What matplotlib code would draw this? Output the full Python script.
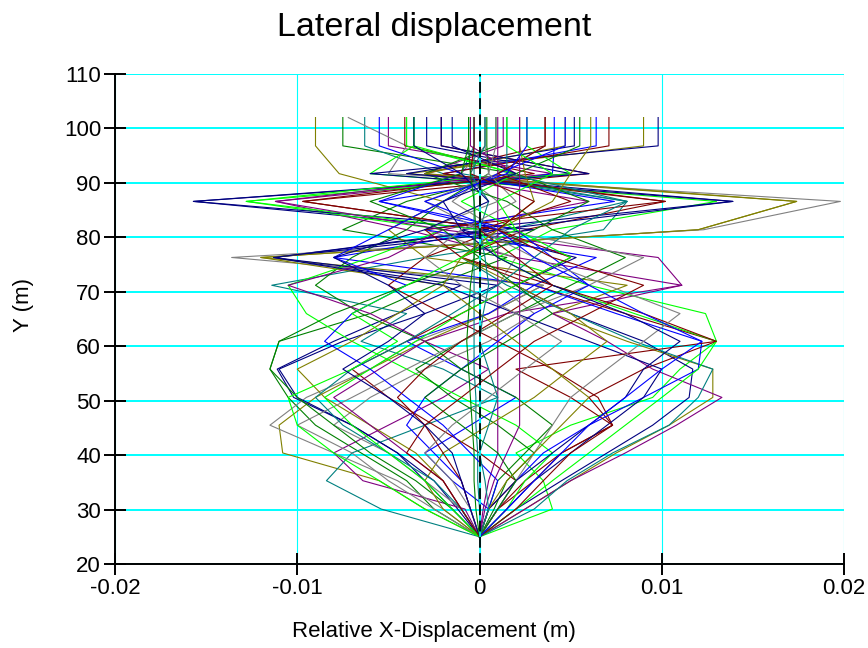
import numpy as np
import matplotlib
matplotlib.use("Agg")
import matplotlib.pyplot as plt

# heights of the output stations (m)
levels = [25.0, 30.1, 35.3, 40.4, 45.5, 50.6, 55.8, 60.9, 66.0, 71.2, 76.3, 81.4, 86.6, 91.7, 96.8, 102.0]

# relative x-displacement per case, in mm
disp_mm = [
    [0, -1.2, -2.5, -4.5, -7.0, -10.2, -11.1, -8.0, -4.5, -1.0, -11.3, 0.5, -15.7, 5.0, -2.9, -2.9],
    [0, 1.0, 2.5, 4.5, 7.3, 6.0, 9.0, 13.0, 8.0, 3.0, -1.0, 2.5, 10.2, -3.0, 3.6, 3.6],
    [0, -2.5, -4.0, -6.5, -9.0, -10.5, -11.5, -11.0, -6.0, -2.5, 1.5, -7.5, -4.0, 2.0, -7.5, -7.5],
    [0, -3.0, -5.5, -10.8, -11.0, -9.0, -6.0, -3.0, 0.5, 3.5, -12.0, 12.0, 17.4, -4.0, 9.0, 9.0],
    [0, -0.8, -6.4, -8.0, -5.0, -2.0, 0.5, -3.0, 1.5, 11.1, 2.0, -4.0, -11.2, 4.0, -5.0, -5.0],
    [0, -5.4, -8.4, -7.0, -3.0, 1.0, -2.0, -6.5, -4.0, -11.4, -3.0, 6.8, 8.1, -2.0, -6.3, -6.3],
    [0, -2.0, -4.5, -8.0, -11.5, -9.5, -6.0, -3.5, 0.5, 3.5, -13.6, 12.3, 19.8, -5.0, -4.0, -7.2],
    [0, 4.0, 3.5, 2.0, 5.0, 9.5, 11.0, 13.0, 12.4, 6.0, 1.0, 4.0, 13.0, -6.0, -3.6, -3.6],
    [0, 0.5, -1.5, -3.0, -0.5, 2.0, -1.0, -4.0, 0.5, 3.0, -8.0, 1.0, -5.5, 4.0, 4.1, 4.1],
    [0, 2.0, 4.5, 7.0, 9.5, 11.5, 11.7, 9.0, 5.0, 2.0, 5.3, -1.0, 13.9, -6.0, 9.8, 9.8],
    [0, 1.0, 3.0, 4.5, 7.3, 6.5, 4.0, 1.0, -2.0, -5.0, -3.0, 1.0, -9.7, 6.0, -2.1, -2.1],
    [0, 0.5, 1.0, 2.5, 4.0, 2.0, -1.0, -3.0, -6.5, -9.0, -7.0, -4.0, -2.0, 0.5, 0.4, 0.4],
    [0, 2.5, 5.0, 7.5, 10.4, 12.8, 12.8, 8.1, 4.0, 8.1, -3.0, -5.0, -2.0, -7.7, -9.0, -9.0],
    [0, 2.5, 5.0, 8.0, 10.8, 13.3, 9.5, 7.0, 4.0, 11.1, 9.8, -2.0, 6.0, -3.0, 1.3, 1.3],
    [0, 3.0, 4.8, 7.3, 10.4, 12.0, 12.8, 8.5, 5.0, 1.5, -1.0, 1.5, 8.1, -1.0, -0.3, -0.3],
    [0, -1.0, -3.0, -5.0, -8.0, -6.0, -3.0, 0.5, 3.0, 1.0, 2.0, -3.0, 1.0, -1.0, 0.3, 0.3],
    [0, 1.5, 2.5, 4.0, 2.0, -1.0, -4.0, -7.0, -9.5, -10.5, -6.0, -2.0, -12.8, 5.0, 2.6, 2.6],
    [0, 1.0, 2.0, 3.5, 6.0, 9.0, 12.0, 12.2, 7.5, 3.0, 6.4, -3.0, 7.4, -2.0, 6.4, 6.4],
    [0, -1.5, -3.0, -4.5, -7.0, -10.0, -11.0, -7.5, -3.0, 1.0, -11.3, 3.0, -15.7, 6.0, -2.1, -2.1],
    [0, 0.5, 2.0, 0.0, -2.5, -5.0, -7.0, -4.0, -1.0, 2.0, 5.0, 1.0, -9.7, 3.0, -4.1, -4.1],
    [0, 0.8, 1.5, 3.0, 1.0, -1.5, -3.5, -1.0, 2.0, 5.0, 8.0, 4.0, 1.5, -3.0, 0.9, 0.9],
    [0, -1.0, -2.0, -3.5, -6.0, -8.5, -10.0, -7.0, -4.5, -2.0, -12.0, 12.0, 17.4, -3.0, 4.7, 4.7],
    [0, 0.2, 0.5, 1.0, 1.0, 1.0, 1.0, 1.0, 1.0, 1.0, 1.0, 1.0, 1.0, 1.0, 1.0, 1.0],
    [0, 0.0, -0.1, -0.1, -0.2, -0.2, -0.3, -0.3, -0.3, -0.3, -0.3, -0.3, -0.3, -0.3, -0.3, -0.3],
    [0, -2.5, -5.0, -7.0, -10.0, -7.0, -4.0, -1.0, 2.0, 6.0, 9.0, 1.0, -1.5, 0.5, 0.3, 0.3],
    [0, 2.0, 4.0, 6.0, 8.0, 10.0, 12.0, 13.0, 8.5, 4.0, 1.0, 0.0, -12.8, 2.0, -3.6, -3.6],
    [0, -0.5, -1.0, -2.5, -4.0, -3.0, -1.0, 1.0, 3.0, 6.0, 4.0, 2.0, -5.5, -1.0, -5.5, -5.5],
    [0, 1.5, 3.0, 5.0, 7.0, 9.0, 10.0, 6.0, 2.0, -2.0, -11.3, 1.0, 13.9, -4.0, 5.2, 5.2],
    [0, 2.0, 3.5, 5.0, 7.3, 5.0, 2.0, 13.0, 9.0, 4.0, -1.0, -3.0, 10.2, -2.0, 7.1, 7.1],
    [0, -1.5, -3.5, -6.0, -8.0, -10.0, -11.5, -11.0, -8.0, -4.0, 0.0, 3.0, 6.0, 2.0, 5.5, 5.5],
    [0, -2.0, -3.0, -2.0, 0.5, 3.0, 5.0, 7.0, 5.0, 2.0, -1.0, 1.0, 3.0, 2.5, 2.2, 2.2],
    [0, -1.0, -2.0, -4.0, -6.0, -8.0, -5.5, -3.0, -6.0, -10.5, -5.0, -2.0, -11.2, 2.0, -0.5, -0.5],
    [0, -1.0, -2.5, -5.0, -7.5, -9.0, -7.0, -4.0, -1.5, 1.0, 3.0, 5.0, 8.1, 1.5, 1.5, 1.5],
    [0, 1.0, 2.0, 3.0, 4.0, 5.0, 7.0, 9.0, 11.0, 7.0, 3.0, 0.0, -3.0, 1.0, 3.6, 3.6],
    [0, -1.5, -3.0, -5.0, -7.0, -8.5, -6.0, -3.5, -1.0, 2.0, 5.0, 2.0, -1.0, 2.0, -4.0, -4.0],
    [0, 0.5, 1.0, -0.5, -2.0, -4.0, -6.0, -8.5, -7.0, -4.0, -8.0, -5.0, -2.0, 1.0, 4.7, 4.7],
    [0, 0.5, 2.0, 4.0, 6.0, 8.0, 9.0, 11.0, 8.0, 4.0, 1.0, -1.0, -2.0, 2.0, -1.5, -1.5],
    [0, -0.5, -1.0, -2.0, -3.0, -4.5, -3.0, -1.0, 1.5, 4.0, 2.0, 0.0, 5.0, 1.0, 3.6, 3.6],
    [0, 1.0, 2.0, 1.0, -1.0, -3.0, -1.0, 1.5, 4.0, 2.0, 0.0, -2.0, -6.0, -1.0, -0.6, -0.6],
    [0, 0.5, 1.5, 3.0, 4.5, 6.0, 4.0, 2.0, 0.0, -2.0, -1.0, 1.0, 4.0, 5.0, 6.1, 6.1],
    [0, 0.3, 0.8, 1.5, 2.2, 2.2, 2.2, 2.2, 2.2, 2.2, 2.2, 2.2, 2.2, 2.2, 2.2, 2.2],
    [0, 0.5, 0.3, 0.0, 0.5, 1.0, 0.5, 0.0, 0.2, 0.5, 0.3, 0.0, 0.5, -0.5, 0.3, 0.3],
    [0, -0.5, -1.5, -3.0, -1.5, 0.5, 2.5, 4.5, 2.0, -1.0, -3.0, -1.0, 2.0, 0.5, 0.9, 0.9],
    [0, -3.0, -5.5, -8.0, -10.0, -10.5, -7.0, -4.5, -7.0, -4.0, -1.0, 2.0, 1.0, 4.0, 1.5, 1.5],
    [0, 1.5, 3.0, 4.5, 6.0, 8.0, 10.0, 12.2, 9.0, 6.0, 3.0, 1.0, -3.0, 1.5, 2.6, 2.6],
    [0, -0.5, -1.0, -1.5, -3.0, -5.0, -7.5, -5.0, -3.0, -5.0, -8.0, -3.0, 0.5, -1.0, -3.6, -3.6],
    [0, -1.0, -2.0, -4.0, -3.0, -1.0, 1.0, 3.0, 6.0, 9.0, 4.0, 1.0, 3.0, -0.5, -0.3, -0.3],
    [0, -0.2, -0.3, -0.3, -0.4, -0.5, -0.6, -0.7, -0.6, -0.5, -0.3, -0.2, -0.3, -0.5, -0.6, -0.6],
]

line_colors = ["#000080", "#800000", "#008000", "#808000", "#800080",
               "#008080", "#808080", "#00ff00", "#0000ff"]

x_ticks = [-0.02, -0.01, 0, 0.01, 0.02]
x_tick_labels = ["-0.02", "-0.01", "0", "0.01", "0.02"]
y_ticks = [20, 30, 40, 50, 60, 70, 80, 90, 100, 110]


def plot_displacement():
    plt.rcParams["font.family"] = ["Liberation Sans", "DejaVu Sans"]
    fig = plt.figure(figsize=(8.68, 6.48), dpi=100)
    ax = fig.add_axes([0.1325, 0.1296, 0.8399, 0.7562])

    for i, row in enumerate(disp_mm):
        x = np.array(row) / 1000.0
        ax.plot(x, levels, color=line_colors[i % len(line_colors)], lw=0.8, zorder=3)

    # zero reference line
    ax.axvline(0, color="#00ffff", lw=1.2, zorder=4)
    ax.axvline(0, color="black", lw=1.3, dashes=(6, 3), zorder=5)

    ax.set_xlim(-0.02, 0.02)
    ax.set_ylim(20, 110)
    ax.set_xticks(x_ticks, x_tick_labels)
    ax.set_yticks(y_ticks)

    ax.yaxis.grid(True, color="#00ffff", lw=1.4, zorder=1)
    ax.xaxis.grid(True, color="#00ffff", lw=0.8, zorder=1)
    ax.set_axisbelow(True)

    for side in ["top", "right"]:
        ax.spines[side].set_visible(False)
    for side in ["left", "bottom"]:
        ax.spines[side].set_linewidth(1.4)
    ax.tick_params(direction="inout", length=16, width=1.4, labelsize=16, pad=2)

    fig.text(0.5, 0.958, "Lateral displacement", ha="center", va="center", fontsize=24.5)
    fig.text(0.5, 0.025, "Relative X-Displacement (m)", ha="center", va="center", fontsize=16)
    fig.text(0.027, 0.529, "Y (m)", ha="center", va="center", rotation=90, fontsize=16)

    fig.savefig("out.png", dpi=100)


def main():
    plot_displacement()


if __name__ == "__main__":
    main()
